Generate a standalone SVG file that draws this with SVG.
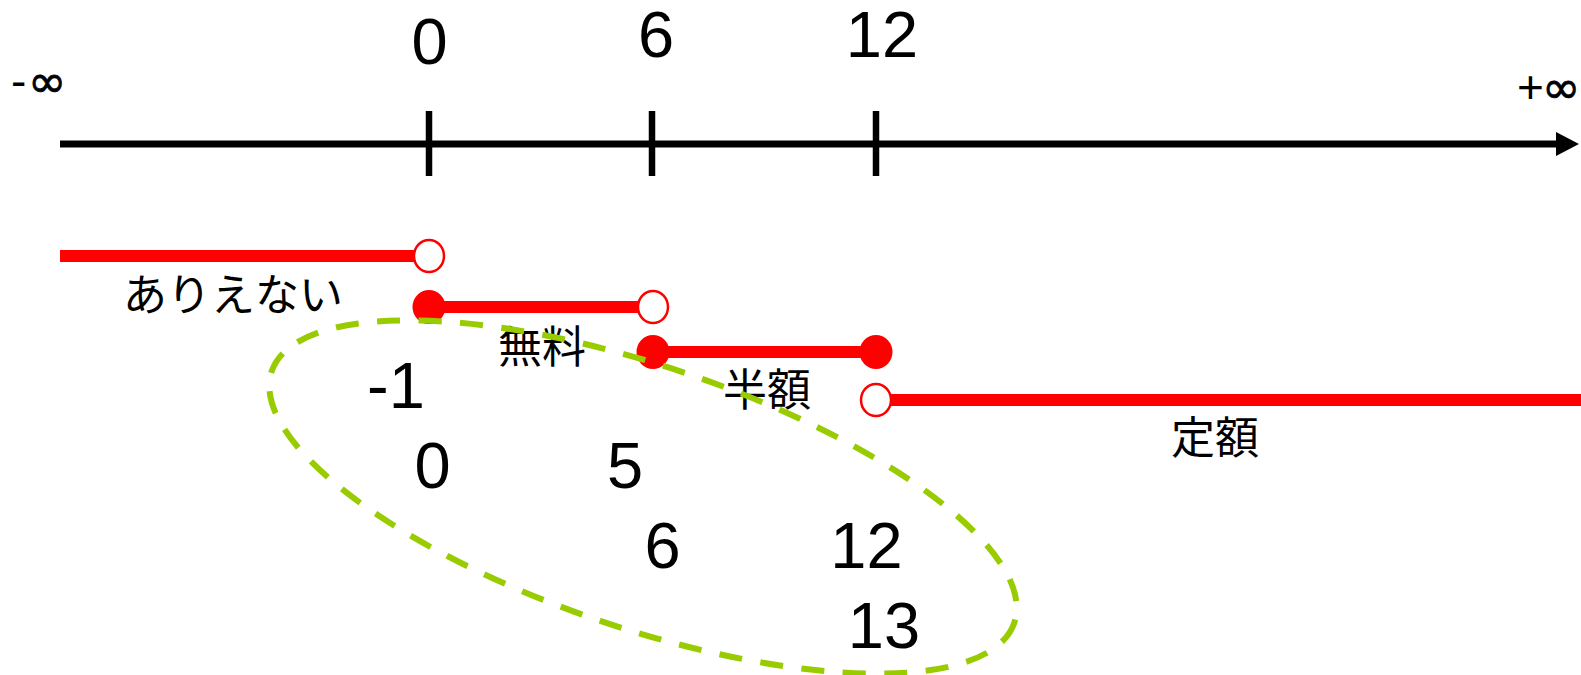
<svg xmlns="http://www.w3.org/2000/svg" width="1581" height="675" viewBox="0 0 1581 675">
<style>
.num{font-family:"Liberation Sans",Arial,sans-serif;font-size:65px;fill:#000;text-anchor:middle}
.inf{font-family:"Liberation Sans",Arial,sans-serif;font-size:46px;fill:#000}
.infs{font-family:"DejaVu Sans",sans-serif;font-size:46px;stroke:#000;stroke-width:0.8}
.jp{font-family:"Noto Sans CJK JP","Noto Sans",sans-serif;font-size:44px;fill:#000;text-anchor:middle}
.bar{stroke:#FF0000;stroke-width:12;fill:none}
.open{fill:#FFFFFF;stroke:#FF0000;stroke-width:2.5}
.closed{fill:#FF0000;stroke:none}
.axis{stroke:#000;stroke-width:7;fill:none}
.tick{stroke:#000;stroke-width:6.5}
</style>
<rect width="1581" height="675" fill="#FFFFFF"/>
<g id="axis">
<line class="axis" x1="60" y1="144" x2="1558" y2="144"/>
<polygon points="1556,132 1579,144 1556,156" fill="#000"/>
<line class="tick" x1="429" y1="111" x2="429" y2="176"/>
<line class="tick" x1="652" y1="111" x2="652" y2="176"/>
<line class="tick" x1="876" y1="111" x2="876" y2="176"/>
<text class="inf" x="11" y="97">-<tspan class="infs" x="28">∞</tspan></text>
<text class="inf" x="1517" y="103">+<tspan class="infs" x="1542">∞</tspan></text>
<text class="num" x="429.5" y="64">0</text>
<text class="num" x="656" y="57">6</text>
<text class="num" x="882" y="57">12</text>
</g>
<g id="seg-impossible">
<line class="bar" x1="60" y1="256" x2="429" y2="256"/>
<ellipse class="open" cx="429" cy="256" rx="15" ry="16"/>
<text class="jp" x="233" y="311">ありえない</text>
</g>
<g id="seg-free">
<line class="bar" x1="429" y1="307" x2="653" y2="307"/>
<ellipse class="closed" cx="429" cy="307" rx="16.5" ry="17"/>
<ellipse class="open" cx="653" cy="307" rx="15" ry="16"/>
<text class="jp" x="542" y="363">無料</text>
</g>
<g id="seg-half">
<line class="bar" x1="653" y1="352" x2="876" y2="352"/>
<ellipse class="closed" cx="653" cy="352" rx="16.5" ry="17"/>
<ellipse class="closed" cx="876" cy="352" rx="16.5" ry="17"/>
<text class="jp" x="767" y="406">半額</text>
</g>
<g id="seg-fixed">
<line class="bar" x1="876" y1="400" x2="1581" y2="400"/>
<ellipse class="open" cx="876" cy="400" rx="15" ry="16"/>
<text class="jp" x="1215" y="454">定額</text>
</g>
<g id="test-values">
<text class="num" x="396" y="408">-1</text>
<text class="num" x="432.5" y="488">0</text>
<text class="num" x="625" y="488">5</text>
<text class="num" x="662.5" y="568">6</text>
<text class="num" x="866.5" y="568">12</text>
<text class="num" x="884" y="648">13</text>
</g>
<g id="boundary-ellipse">
<ellipse cx="643" cy="497" rx="392" ry="131" transform="rotate(18.7 643 497)" fill="none" stroke="#99CC00" stroke-width="6" stroke-dasharray="23 18.5"/>
</g>
</svg>
